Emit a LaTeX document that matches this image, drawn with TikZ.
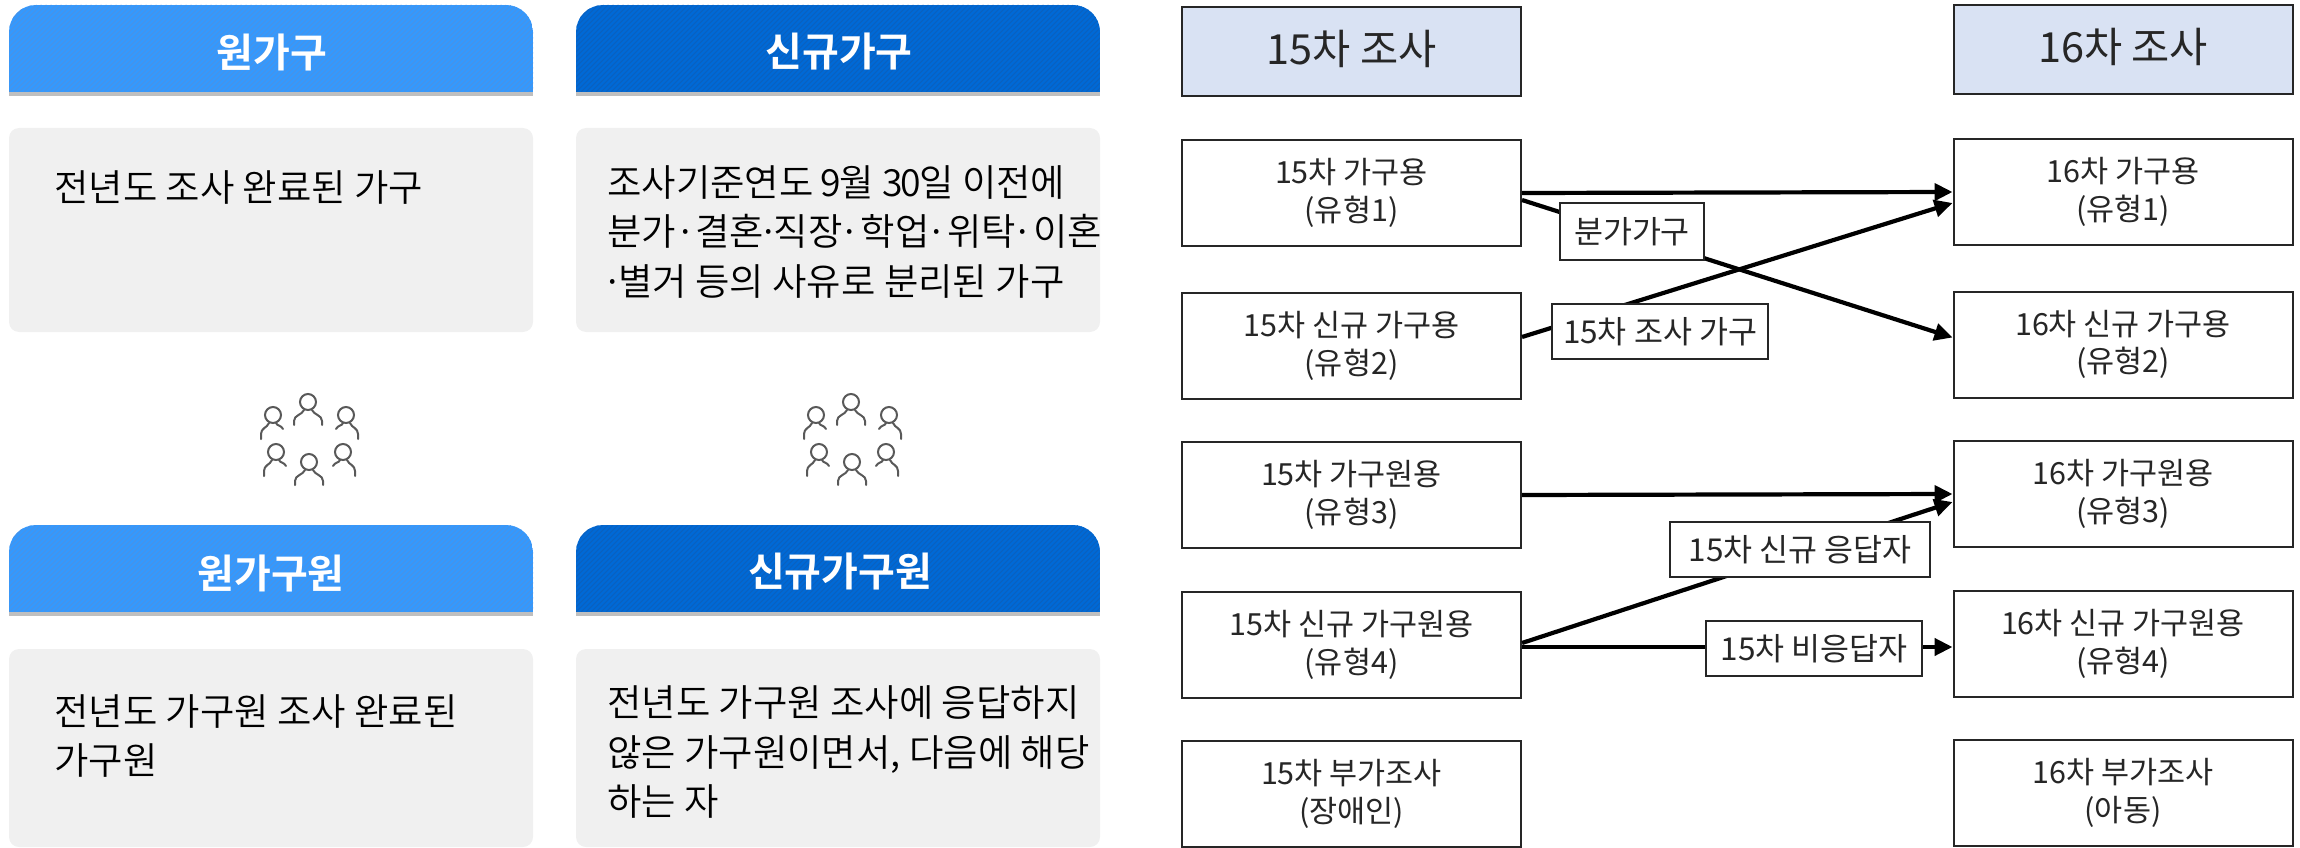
\documentclass[tikz,border=0pt]{standalone}
\usepackage{fontspec}
\setmainfont{Noto Sans CJK KR}
\newfontfamily\krbold{Noto Sans CJK KR Bold}
\newfontfamily\krlight{Noto Sans CJK KR DemiLight}
\usetikzlibrary{arrows.meta}
\definecolor{lblue}{HTML}{3399FF}
\definecolor{lstripe}{HTML}{4B92E4}
\definecolor{dblue}{HTML}{0069D6}
\definecolor{dstripe}{HTML}{0C60BC}
\definecolor{strip}{HTML}{BFBFBF}
\definecolor{panel}{HTML}{F0F0F0}
\definecolor{headfill}{HTML}{D9E2F3}
\definecolor{ink}{HTML}{262626}
\definecolor{iconc}{HTML}{595959}
\newcommand{\hdrband}[6]{%
  \begin{scope}
    \clip (#1,#2) rectangle (#3,#4);
    \clip[rounded corners=27pt] (#1,#2) rectangle (#3,#4+40);
    \fill[#5] (#1,#2) rectangle (#3,#4);
    \foreach \k in {0,5,...,630} {
      \draw[#6,line width=0.9pt] (#1-90+\k,#4) -- ++(90,-90);
    }
  \end{scope}
  \fill[strip] (#1,#4) rectangle (#3,#4+4);
}
\newcommand{\titleup}[1]{\raisebox{3pt}[\height][\depth]{#1}}
\tikzset{
  x=1pt,y=-1pt,
  htext/.style={text=white,inner sep=0pt,font=\krbold\fontsize{40}{44}\selectfont},
  ptext/.style={anchor=west,align=left,text=black,inner sep=0pt,font=\krlight\fontsize{37.4}{49.5}\selectfont},
  panelbox/.style={fill=panel,rounded corners=10pt},
  bx/.style={draw=ink,line width=2pt,fill=white,minimum width=339pt,minimum height=106pt,inner sep=0pt,align=center,text=ink,font=\fontsize{30.5}{37.5}\selectfont},
  titlebx/.style={bx,fill=headfill,minimum height=89pt,font=\fontsize{41.5}{44}\selectfont},
  lab/.style={draw=ink,line width=1.6pt,fill=white,inner sep=0pt,text=ink,font=\fontsize{31.5}{36}\selectfont},
  conn/.style={draw=black,line width=4.2pt,-{Triangle[length=18pt,width=17pt]}},
  iconline/.style={draw=iconc,line width=2pt,line cap=round},
  personc/.pic={
    \draw[iconline] (0,0) circle (8);
    \draw[iconline] (-14,23) -- (-14,19) .. controls (-14,13) and (-6,13) .. (-4,8);
    \draw[iconline] (14,23) -- (14,19) .. controls (14,13) and (6,13) .. (4,8);
  },
  personl/.pic={
    \draw[iconline] (0,0) circle (8);
    \draw[iconline] (-12,24) -- (-12,19) .. controls (-12,13) and (-6,13) .. (-4,8);
    \draw[iconline] (3,8) .. controls (4,11) and (8,10) .. (10,14);
  },
  personr/.pic={
    \draw[iconline] (0,0) circle (8);
    \draw[iconline] (12,24) -- (12,19) .. controls (12,13) and (6,13) .. (4,8);
    \draw[iconline] (-3,8) .. controls (-4,11) and (-8,10) .. (-10,14);
  },
}
\begin{document}
\begin{tikzpicture}
\useasboundingbox (0,0) rectangle (2300,848);
% left panels
\hdrband{9}{5}{533}{92}{lblue}{lstripe}
\hdrband{576}{5}{1100}{92}{dblue}{dstripe}
\hdrband{9}{525}{533}{612}{lblue}{lstripe}
\hdrband{576}{525}{1100}{612}{dblue}{dstripe}
\fill[panelbox] (9,128) rectangle (533,332);
\fill[panelbox] (576,128) rectangle (1100,332);
\fill[panelbox] (9,649) rectangle (533,847);
\fill[panelbox] (576,649) rectangle (1100,847);
\node[htext] (h1) at (272,53) {원가구};
\node[htext] (h2) at (839,52) {신규가구};
\node[htext] (h3) at (271,573) {원가구원};
\node[htext] (h4) at (840,572) {신규가구원};
\node[ptext] (t1) at (54,188) {전년도 조사 완료된 가구};
\node[ptext] (t2) at (607,232) {조사기준연도\hspace{-1pt} 9\kern-2pt월 3\kern-2pt0\kern-2pt일 이전에\\분가\makebox[19pt]{·}결혼\makebox[10pt]{·}직장\makebox[18pt][r]{·}학업\makebox[18pt][r]{·}위탁\makebox[17pt][r]{·}이혼\\\makebox[11pt]{·}별거 등의 사유로 분리된 가구};
\node[ptext] (t3) at (54,736) {전년도 가구원 조사 완료된\\가구원};
\node[ptext] (t4) at (607,752) {전년도 가구원 조사에 응답하지\\않은 가구원이면서, 다음에 해당\\하는 자};
% icons
\foreach \dx in {0,543} {
  \begin{scope}[xshift=\dx pt]
    \pic at (308,402) {personc};
    \pic at (273,415) {personl};
    \pic at (346,415) {personr};
    \pic at (276,452) {personl};
    \pic at (309,462) {personc};
    \pic at (343,452) {personr};
  \end{scope}
}
% right diagram
\node[titlebx] (s15) at (1351.5,51.5) {\titleup{15차 조사}};
\node[titlebx] (s16) at (2123,49.5) {\titleup{16차 조사}};
\node[bx] (b1) at (1351.5,193) {15차 가구용\\(유형1)};
\node[bx] (b2) at (1351.5,346) {15차 신규 가구용\\(유형2)};
\node[bx] (b3) at (1351.5,495) {15차 가구원용\\(유형3)};
\node[bx] (b4) at (1351.5,645) {15차 신규 가구원용\\(유형4)};
\node[bx] (b5) at (1351.5,794) {15차 부가조사\\(장애인)};
\node[bx] (r1) at (2123,192) {16차 가구용\\(유형1)};
\node[bx] (r2) at (2123,344.5) {16차 신규 가구용\\(유형2)};
\node[bx] (r3) at (2123,494) {16차 가구원용\\(유형3)};
\node[bx] (r4) at (2123,644) {16차 신규 가구원용\\(유형4)};
\node[bx] (r5) at (2123,793) {16차 부가조사\\(아동)};
\draw[conn] (b1.east) -- (r1.west);
\draw[conn] ([yshift=-7pt]b1.east) -- ([yshift=7pt]r2.west);
\draw[conn] ([yshift=9pt]b2.east) -- ([yshift=-11pt]r1.west);
\draw[conn] (b3.east) -- (r3.west);
\draw[conn] ([yshift=2pt]b4.east) -- ([yshift=-8pt]r3.west);
\draw[conn] ([yshift=-2pt]b4.east) -- ([yshift=-3pt]r4.west);
\node[lab,minimum width=144pt,minimum height=57pt] (l1) at (1632,231.5) {분가가구};
\node[lab,minimum width=216pt,minimum height=55pt] (l2) at (1660,331.5) {15차 조사 가구};
\node[lab,minimum width=260pt,minimum height=55pt] (l3) at (1800,549.5) {15차 신규 응답자};
\node[lab,minimum width=216pt,minimum height=55pt] (l4) at (1814,648.5) {15차 비응답자};
\end{tikzpicture}
\end{document}
